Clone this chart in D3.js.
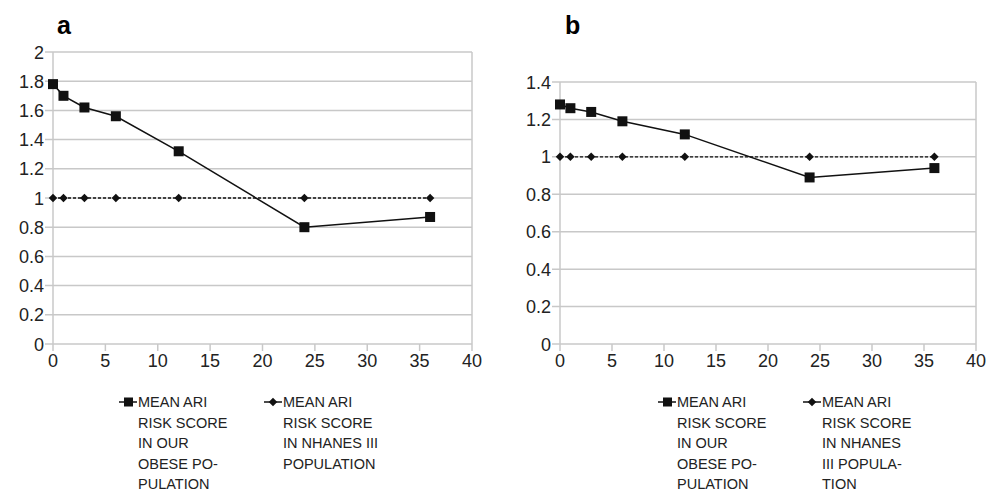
<!DOCTYPE html>
<html>
<head>
<meta charset="utf-8">
<script src="https://cdn.jsdelivr.net/npm/d3@7"></script>
<style>
  body { margin: 0; background: #fff; }
  svg { display: block; font-family: "Liberation Sans", Arial, sans-serif; }
</style>
</head>
<body>
<svg width="986" height="493"></svg>
<script>
// months since start
var months = [0, 1, 3, 6, 12, 24, 36];

// panel a
var obeseA  = [1.78, 1.70, 1.62, 1.56, 1.32, 0.80, 0.87];
var nhanesA = [1, 1, 1, 1, 1, 1, 1];
var yTicksA = [0, 0.2, 0.4, 0.6, 0.8, 1, 1.2, 1.4, 1.6, 1.8, 2];

// panel b
var obeseB  = [1.28, 1.26, 1.24, 1.19, 1.12, 0.89, 0.94];
var nhanesB = [1, 1, 1, 1, 1, 1, 1];
var yTicksB = [0, 0.2, 0.4, 0.6, 0.8, 1, 1.2, 1.4];

var xTicks = [0, 5, 10, 15, 20, 25, 30, 35, 40];

var legendObese   = ["MEAN ARI", "RISK SCORE", "IN OUR", "OBESE PO-", "PULATION"];
var legendNhanesA = ["MEAN ARI", "RISK SCORE", "IN NHANES III", "POPULATION"];
var legendNhanesB = ["MEAN ARI", "RISK SCORE", "IN NHANES", "III POPULA-", "TION"];

var svg = d3.select("svg");
var grid = "#c8c8c8";

function drawPanel(p){
  var g = svg.append("g");

  var x = d3.scaleLinear().domain([0, 40]).range([p.left, p.right]);
  var y = d3.scaleLinear().domain([0, p.yMax]).range([p.bottom, p.top]);

  // horizontal gridlines (with little ticks out to the left)
  g.selectAll(".grid").data(p.yTicks).enter()
    .append("line")
    .attr("x1", p.left - 8).attr("x2", p.right)
    .attr("y1", function(d){ return y(d); })
    .attr("y2", function(d){ return y(d); })
    .attr("stroke", grid).attr("stroke-width", 1.5);

  // left and right borders
  [p.left, p.right].forEach(function(xx){
    g.append("line")
      .attr("x1", xx).attr("x2", xx)
      .attr("y1", p.top).attr("y2", p.bottom)
      .attr("stroke", grid).attr("stroke-width", 1.5);
  });

  // x ticks
  g.selectAll(".xt").data(xTicks).enter()
    .append("line")
    .attr("x1", function(d){ return x(d); })
    .attr("x2", function(d){ return x(d); })
    .attr("y1", p.bottom).attr("y2", p.bottom + 7)
    .attr("stroke", grid).attr("stroke-width", 1.5);

  g.selectAll(".xl").data(xTicks).enter()
    .append("text")
    .attr("x", function(d){ return x(d); })
    .attr("y", p.bottom + 23)
    .attr("text-anchor", "middle")
    .attr("font-size", 18).attr("fill", "#222")
    .text(function(d){ return d; });

  g.selectAll(".yl").data(p.yTicks).enter()
    .append("text")
    .attr("x", p.left - 9)
    .attr("y", function(d){ return y(d) + 6.5; })
    .attr("text-anchor", "end")
    .attr("font-size", 18).attr("fill", "#222")
    .text(function(d){ return d; });

  // panel letter
  g.append("text")
    .attr("x", p.letterX).attr("y", 34)
    .attr("font-size", 25).attr("font-weight", "bold")
    .text(p.letter);

  var line = d3.line()
    .x(function(d){ return x(d[0]); })
    .y(function(d){ return y(d[1]); });

  var nh = d3.zip(months, p.nhanes);
  var ob = d3.zip(months, p.obese);

  g.append("path").datum(nh)
    .attr("d", line).attr("fill", "none")
    .attr("stroke", "#111").attr("stroke-width", 1.3)
    .attr("stroke-dasharray", "3,2");

  g.append("path").datum(ob)
    .attr("d", line).attr("fill", "none")
    .attr("stroke", "#111").attr("stroke-width", 1.5);

  var diamond = d3.symbol().type(d3.symbolDiamond2).size(46);
  g.selectAll(".dm").data(nh).enter()
    .append("path")
    .attr("d", diamond)
    .attr("transform", function(d){ return "translate(" + x(d[0]) + "," + y(d[1]) + ")"; })
    .attr("fill", "#111");

  g.selectAll(".sq").data(ob).enter()
    .append("rect")
    .attr("x", function(d){ return x(d[0]) - 5; })
    .attr("y", function(d){ return y(d[1]) - 5; })
    .attr("width", 10).attr("height", 10)
    .attr("fill", "#111");

  // legend
  function legendItem(ix, lines, marker){
    var lg = g.append("g");
    lg.append("line")
      .attr("x1", ix).attr("x2", ix + 18)
      .attr("y1", 402).attr("y2", 402)
      .attr("stroke", "#111").attr("stroke-width", 1.5);
    if (marker === "square") {
      lg.append("rect").attr("x", ix + 5).attr("y", 397.5)
        .attr("width", 9).attr("height", 9).attr("fill", "#111");
    } else {
      lg.append("path").attr("d", diamond)
        .attr("transform", "translate(" + (ix + 9) + ",402)")
        .attr("fill", "#111");
    }
    lg.selectAll("text").data(lines).enter()
      .append("text")
      .attr("x", ix + 19)
      .attr("y", function(d, i){ return 407 + i * 20.5; })
      .attr("font-size", 14.5).attr("fill", "#222")
      .text(function(d){ return d; });
  }
  legendItem(p.leg1, legendObese, "square");
  legendItem(p.leg2, p.nhanesLegend, "diamond");
}

drawPanel({
  left: 53, right: 472, top: 52, bottom: 344, yMax: 2,
  yTicks: yTicksA, obese: obeseA, nhanes: nhanesA,
  letter: "a", letterX: 57, leg1: 119, leg2: 264, nhanesLegend: legendNhanesA
});

drawPanel({
  left: 560, right: 976, top: 82, bottom: 344, yMax: 1.4,
  yTicks: yTicksB, obese: obeseB, nhanes: nhanesB,
  letter: "b", letterX: 565, leg1: 658, leg2: 803, nhanesLegend: legendNhanesB
});
</script>
</body>
</html>
